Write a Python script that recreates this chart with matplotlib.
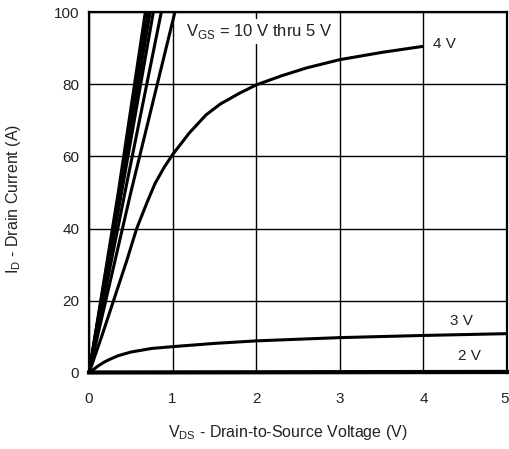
import matplotlib
matplotlib.use("Agg")
import matplotlib.pyplot as plt
import matplotlib.transforms as mtransforms

plt.rcParams['font.family'] = ['Liberation Sans', 'DejaVu Sans']

# steep curves, VGS = 10 V thru 5 V  (VDS, ID)
vds_10v = [0, 0.35, 0.70]
id_10v = [0, 50, 104]
vds_9v = [0, 0.36, 0.73]
id_9v = [0, 50, 104]
vds_8v = [0, 0.37, 0.76]
id_8v = [0, 50, 104]
vds_7v = [0, 0.39, 0.80]
id_7v = [0, 50, 104]
vds_6v = [0, 0.43, 0.90]
id_6v = [0, 50, 104]
vds_5v = [0, 0.50, 1.07]
id_5v = [0, 50, 104]

vds_4v = [0, 0.15, 0.29, 0.45, 0.57, 0.69, 0.79, 0.9, 1.0, 1.2, 1.4, 1.57, 1.8, 2.0, 2.3, 2.6, 3.0, 3.5, 4.0]
id_4v = [0, 10, 19.8, 31, 40, 47, 52.5, 57, 60.5, 66.5, 71.5, 74.5, 77.5, 79.8, 82.3, 84.5, 86.8, 88.8, 90.5]

vds_3v = [0, 0.05, 0.1, 0.18, 0.25, 0.35, 0.5, 0.75, 1.0, 1.5, 2.0, 3.0, 4.0, 5.0]
id_3v = [0, 0.9, 1.8, 3.0, 3.8, 4.8, 5.8, 6.8, 7.3, 8.2, 8.9, 9.8, 10.4, 10.9]

vds_2v = [0, 5.0]
id_2v = [0.15, 0.3]

x_ticks = [0, 1, 2, 3, 4, 5]
y_ticks = [0, 20, 40, 60, 80, 100]

W, H = 510, 449
fig = plt.figure(figsize=(W / 100, H / 100), dpi=100)
ax = fig.add_axes([89 / W, 1 - 373 / H, (507 - 89) / W, (373 - 12) / H])

lw = 2.2
for xs, ys in [(vds_10v, id_10v), (vds_9v, id_9v), (vds_8v, id_8v), (vds_7v, id_7v),
               (vds_6v, id_6v), (vds_5v, id_5v), (vds_4v, id_4v), (vds_3v, id_3v)]:
    ax.plot(xs, ys, color='black', lw=lw, solid_capstyle='butt', zorder=3)
ax.plot(vds_2v, id_2v, color='black', lw=3, zorder=4, clip_on=False)

ax.set_xlim(0, 5)
ax.set_ylim(0, 100)
ax.set_xticks(x_ticks)
ax.set_yticks(y_ticks)
ax.grid(True, color='black', lw=1.0)
ax.set_axisbelow(True)
for s in ax.spines.values():
    s.set_linewidth(1.6)
    s.set_color('black')
ax.tick_params(length=0, labelsize=11, colors='#222222')
ax.tick_params(axis='y', pad=7)
ax.tick_params(axis='x', pad=14)
# nudge the last x tick label so it stays inside the picture
xl = ax.get_xticklabels()
xl[-1].set_transform(xl[-1].get_transform() + mtransforms.ScaledTranslation(-2 / 100, 0, fig.dpi_scale_trans))

fig.text(288 / W, 1 - 432 / H, 'V$_{\\mathregular{DS}}$ - Drain-to-Source Voltage (V)', fontsize=11.5,
         ha='center', va='center', color='#222222')
fig.text(14 / W, 1 - 199 / H, 'I$_{\\mathregular{D}}$ - Drain Current (A)', fontsize=11.5,
         ha='center', va='center', rotation=90, color='#222222')

ax.text(2.04, 94.6, 'V$_{\\mathregular{GS}}$ = 10 V thru 5 V', fontsize=12, ha='center', va='center',
        color='#222222', zorder=5,
        bbox=dict(boxstyle='square,pad=0.2', fc='white', ec='none'))
ax.text(4.12, 91.0, '4 V', fontsize=11, ha='left', va='center', color='#222222', zorder=5,
        bbox=dict(boxstyle='square,pad=0.1', fc='white', ec='none'))
ax.text(4.45, 14.5, '3 V', fontsize=11, ha='center', va='center', color='#222222', zorder=5)
ax.text(4.55, 4.7, '2 V', fontsize=11, ha='center', va='center', color='#222222', zorder=5)

fig.savefig('out.png', dpi=100)
